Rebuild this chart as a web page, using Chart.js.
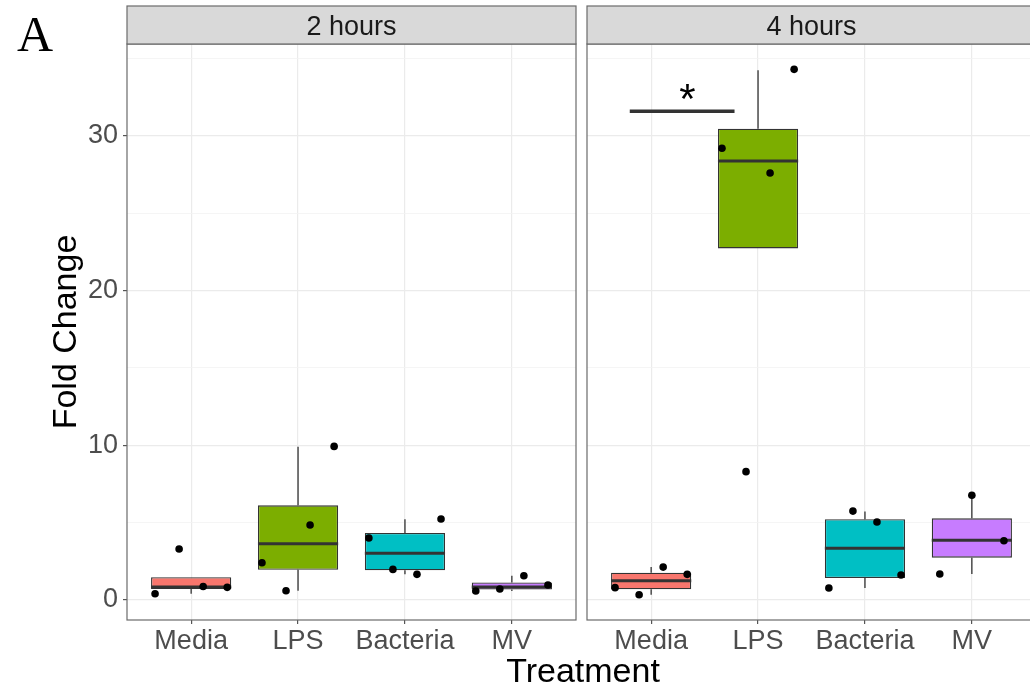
<!DOCTYPE html>
<html lang="en">
<head>
<meta charset="UTF-8">
<title>Fold Change by Treatment</title>
<style>
    html, body {
        margin: 0;
        padding: 0;
        background: #ffffff;
        overflow: hidden;
    }

    .figure {
        position: relative;
        width: 1030px;
        height: 693px;
        overflow: hidden;
        font-family: "Liberation Sans", Arial, sans-serif;
    }

    #panel2h { position: absolute; left: 0; top: 0; }
    #panel4h { position: absolute; left: 580px; top: 0; }

    .tag {
        position: absolute;
        left: 17px;
        top: 9px;
        font: 50px/50px "Liberation Serif", "Times New Roman", serif;
        color: #000;
    }

    .xtitle {
        position: absolute;
        left: 583px;
        top: 653px;
        transform: translateX(-50%);
        font-size: 34px;
        line-height: 34px;
        color: #000;
        white-space: nowrap;
    }
</style>
<script src="https://cdn.jsdelivr.net/npm/chart.js"></script>
</head>
<body>

<div class="figure">
    <canvas id="panel2h" width="580" height="693"></canvas>
    <canvas id="panel4h" width="460" height="693"></canvas>
    <div class="tag">A</div>
    <div class="xtitle">Treatment</div>
</div>

<script>
const categories = ['Media', 'LPS', 'Bacteria', 'MV'];
const boxColors = ['#F8766D', '#7CAE00', '#00BFC4', '#C77CFF'];
const yMajorTicks = [0, 10, 20, 30];
const yMinorTicks = [5, 15, 25, 35];

// 2 hours - replicate values, left to right inside each group
const points2h = [
    [0.41, 3.30, 0.88, 0.82],
    [2.41, 0.60, 4.85, 9.93],
    [4.01, 1.98, 1.66, 5.24],
    [0.58, 0.71, 1.57, 0.97]
];
const whiskerLow2h  = [0.41, 0.60, 1.66, 0.58];
const q1_2h         = [0.72, 1.96, 1.92, 0.68];
const median2h      = [0.85, 3.64, 3.02, 0.84];
const q3_2h         = [1.48, 6.12, 4.33, 1.13];
const whiskerHigh2h = [0.88, 9.91, 5.22, 1.57];

// 4 hours
const points4h = [
    [0.80, 0.34, 2.13, 1.66],
    [29.2, 8.30, 27.6, 34.3],
    [0.78, 5.75, 5.04, 1.62],
    [1.68, 6.77, 3.83]
];
const whiskerLow4h  = [0.34, 27.6, 0.78, 1.68];
const q1_4h         = [0.69, 22.73, 1.42, 2.74];
const median4h      = [1.25, 28.38, 3.34, 3.86];
const q3_4h         = [1.77, 30.47, 5.22, 5.28];
const whiskerHigh4h = [2.13, 34.25, 5.73, 6.77];

// significance bracket, 4 hours, Media vs LPS
const sigFromTo = [0.8, 1.78];
const sigLevel = 31.6;
const sigLabel = '*';
const sigLabelX = 1.34;

const FONT = '"Liberation Sans", Arial, sans-serif';
Chart.defaults.font.family = FONT;

const isMajor = c => c.tick && yMajorTicks.includes(c.tick.value);

// strip on top + grey panel border, like facet_wrap in theme_bw
function facetPlugin(label) {
    return {
        id: 'facet',
        afterDraw(chart) {
            const { ctx, chartArea: a } = chart;
            ctx.save();
            ctx.strokeStyle = '#6b6b6b';
            ctx.lineWidth = 1.2;
            ctx.strokeRect(a.left, a.top, a.right - a.left, a.bottom - a.top);
            ctx.fillStyle = '#d9d9d9';
            ctx.fillRect(a.left, 6, a.right - a.left, a.top - 6);
            ctx.strokeRect(a.left, 6, a.right - a.left, a.top - 6);
            ctx.fillStyle = '#1a1a1a';
            ctx.font = '27px ' + FONT;
            ctx.textAlign = 'center';
            ctx.textBaseline = 'middle';
            ctx.fillText(label, (a.left + a.right) / 2, (6 + a.top) / 2 + 3);
            ctx.restore();
        }
    };
}

// whiskers and median drawn on top of the floating bars
function boxPlugin(low, q1, med, q3, high) {
    return {
        id: 'boxWhiskers',
        afterDatasetDraw(chart, args) {
            if (args.meta.type !== 'bar') return;
            const { ctx } = chart;
            const y = chart.scales.y;
            ctx.save();
            ctx.strokeStyle = '#333333';
            args.meta.data.forEach((bar, i) => {
                ctx.lineWidth = 1.3;
                ctx.beginPath();
                if (high[i] > q3[i]) {
                    ctx.moveTo(bar.x, y.getPixelForValue(q3[i]));
                    ctx.lineTo(bar.x, y.getPixelForValue(high[i]));
                }
                if (low[i] < q1[i]) {
                    ctx.moveTo(bar.x, y.getPixelForValue(q1[i]));
                    ctx.lineTo(bar.x, y.getPixelForValue(low[i]));
                }
                ctx.stroke();
                const ym = y.getPixelForValue(med[i]);
                ctx.lineWidth = 3;
                ctx.beginPath();
                ctx.moveTo(bar.x - bar.width / 2, ym);
                ctx.lineTo(bar.x + bar.width / 2, ym);
                ctx.stroke();
            });
            ctx.restore();
        }
    };
}

const starPlugin = {
    id: 'sigStar',
    afterDatasetsDraw(chart) {
        const { ctx, scales } = chart;
        ctx.save();
        ctx.fillStyle = '#000';
        ctx.font = '42px ' + FONT;
        ctx.textAlign = 'center';
        ctx.textBaseline = 'alphabetic';
        ctx.fillText(sigLabel, scales.x.getPixelForValue(sigLabelX), scales.y.getPixelForValue(sigLevel) + 2);
        ctx.restore();
    }
};

// replicates are dodged evenly inside the group (width 0.9)
function dodgePoints(points) {
    const out = [];
    points.forEach((vals, i) => {
        const n = vals.length, step = 0.9 / n;
        vals.forEach((v, j) => out.push({ x: i + 1 + (j - (n - 1) / 2) * step, y: v }));
    });
    return out;
}

function makePanel(canvasId, label, points, low, q1, med, q3, high, showY, extraSets, extraPlugins) {
    const datasets = [
        {
            type: 'scatter',
            data: dodgePoints(points),
            pointRadius: 3.8,
            pointBackgroundColor: '#000',
            pointBorderWidth: 0,
            order: 0
        },
        {
            type: 'bar',
            data: categories.map((c, i) => ({ x: i + 1, y: [q1[i], q3[i]] })),
            backgroundColor: boxColors,
            borderColor: '#333333',
            borderWidth: 1.3,
            borderSkipped: false,
            barPercentage: 0.75,
            categoryPercentage: 1,
            order: 2
        }
    ].concat(extraSets || []);

    const tickFont = { family: FONT, size: 27 };

    return new Chart(document.getElementById(canvasId), {
        type: 'bar',
        data: { datasets: datasets },
        options: {
            responsive: false,
            animation: false,
            events: [],
            layout: { padding: showY ? { left: 0, right: 2, top: 44, bottom: 0 } : { left: 7, right: 2, top: 44, bottom: 0 } },
            plugins: { legend: { display: false }, tooltip: { enabled: false } },
            scales: {
                x: {
                    type: 'linear',
                    min: 0.4,
                    max: 4.6,
                    bounds: 'data',
                    offset: false,
                    afterBuildTicks: s => { s.ticks = categories.map((c, i) => ({ value: i + 1 })); },
                    afterFit: s => { s.height = 73; },
                    ticks: {
                        callback: v => categories[Math.round(v) - 1],
                        color: '#4d4d4d',
                        font: tickFont,
                        padding: 1,
                        autoSkip: false,
                        maxRotation: 0
                    },
                    grid: { color: '#ebebeb', lineWidth: 1.2, tickColor: '#555', tickLength: 4, offset: false },
                    border: { display: false }
                },
                y: {
                    type: 'linear',
                    min: -1.29,
                    max: 35.94,
                    bounds: 'data',
                    afterBuildTicks: s => {
                        s.ticks = yMajorTicks.concat(yMinorTicks).sort((a, b) => a - b).map(v => ({ value: v }));
                    },
                    afterFit: s => { s.width = showY ? 127 : 0; },
                    ticks: {
                        display: showY,
                        callback: v => yMajorTicks.includes(v) ? String(v) : '',
                        color: '#4d4d4d',
                        font: tickFont,
                        padding: 5,
                        autoSkip: false
                    },
                    grid: {
                        color: c => isMajor(c) ? '#ebebeb' : '#f3f3f3',
                        lineWidth: c => isMajor(c) ? 1.2 : 0.8,
                        tickColor: c => isMajor(c) ? '#555' : 'rgba(0,0,0,0)',
                        drawTicks: showY,
                        tickLength: 4
                    },
                    border: { display: false },
                    title: {
                        display: showY,
                        text: 'Fold Change',
                        color: '#000',
                        font: { family: FONT, size: 34 },
                        padding: { top: 46, bottom: 0 }
                    }
                }
            }
        },
        plugins: [boxPlugin(low, q1, med, q3, high), facetPlugin(label)].concat(extraPlugins || [])
    });
}

makePanel('panel2h', '2 hours', points2h,
    whiskerLow2h, q1_2h, median2h, q3_2h, whiskerHigh2h, true);

makePanel('panel4h', '4 hours', points4h,
    whiskerLow4h, q1_4h, median4h, q3_4h, whiskerHigh4h, false,
    [{
        type: 'line',
        data: sigFromTo.map(x => ({ x: x, y: sigLevel })),
        borderColor: '#333333',
        borderWidth: 3.5,
        pointRadius: 0,
        order: 1
    }],
    [starPlugin]);
</script>
</body>
</html>
